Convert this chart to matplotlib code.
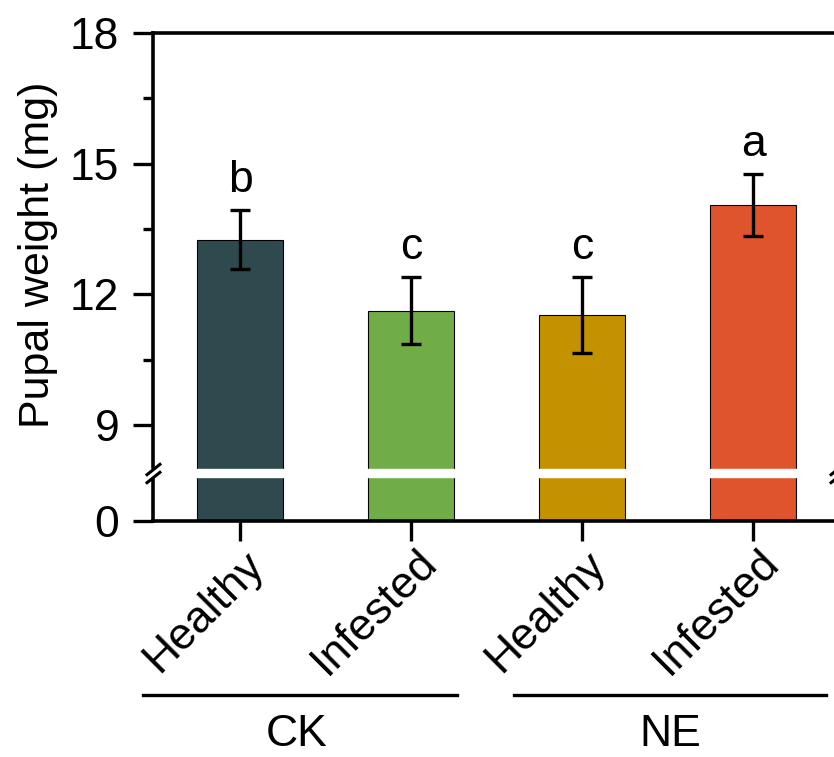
import numpy as np
import matplotlib
matplotlib.use('Agg')
import matplotlib.pyplot as plt
import matplotlib.transforms as mtransforms

plt.rcParams['font.family'] = ['Liberation Sans', 'DejaVu Sans']

# data ---------------------------------------------------------------
conditions = ['Healthy', 'Infested', 'Healthy', 'Infested']
groups = ['CK', 'NE']
weights = [13.26, 11.63, 11.53, 14.05]
errors = [0.67, 0.77, 0.87, 0.71]
letters = ['b', 'c', 'c', 'a']
colors = ['#2E4A4E', '#70AD47', '#C49100', '#DF542D']

# broken y axis: 0-1 below the break, 8-18 above it
BRK_LO, BRK_HI, GAP = 1.0, 8.0, 0.2


def forward(y):
    y = np.asarray(y, dtype=float)
    mid = BRK_LO + (y - BRK_LO) / (BRK_HI - BRK_LO) * GAP
    return np.where(y <= BRK_LO, y,
                    np.where(y >= BRK_HI, y - BRK_HI + BRK_LO + GAP, mid))


def inverse(d):
    d = np.asarray(d, dtype=float)
    top = BRK_LO + GAP
    mid = BRK_LO + (d - BRK_LO) / GAP * (BRK_HI - BRK_LO)
    return np.where(d <= BRK_LO, d,
                    np.where(d >= top, d - top + BRK_HI, mid))


fig = plt.figure(figsize=(8.34, 7.57), dpi=100)
ax = fig.add_axes([0.1835, 0.3118, 0.82, 0.6446])
ax.set_yscale('function', functions=(forward, inverse))

x = np.arange(len(weights))
ax.bar(x, weights, width=0.5, color=colors, edgecolor='black', linewidth=0.8, zorder=2)
ax.errorbar(x, weights, yerr=errors, fmt='none', ecolor='black',
            elinewidth=2.4, capsize=7.2, capthick=2.4, zorder=3)

for xi, w, e, let in zip(x, weights, errors, letters):
    ax.annotate(let, (xi, w + e), xytext=(0, 13), textcoords='offset points',
                ha='center', va='baseline', fontsize=32)

ax.set_xlim(-0.51, 3.49)
ax.set_ylim(0, 18)
ax.set_yticks([0, 9, 12, 15, 18])
ax.set_yticks([10.5, 13.5, 16.5], minor=True)
ax.set_xticks(x)
ax.set_xticklabels([])
ax.tick_params(axis='both', which='major', direction='out', length=14.4, width=2.4,
               labelsize=32, pad=10)
ax.tick_params(axis='y', which='minor', direction='out', length=7.2, width=2.4)
for sp in ax.spines.values():
    sp.set_linewidth(2.6)

# white band across the break and the // marks on the spines
ax.axhspan(BRK_LO, BRK_HI, xmin=-0.01, xmax=1.01, color='white', zorder=4, clip_on=False)
d = 0.8
ax.plot([0, 0, 1, 1], [BRK_HI, BRK_LO, BRK_HI, BRK_LO], transform=ax.get_yaxis_transform(),
        marker=[(-1, -d), (1, d)], markersize=11, linestyle='none', color='k',
        mec='k', mew=2.2, clip_on=False, zorder=5)

ax.set_ylabel('Pupal weight (mg)', fontsize=31, va='center')
ax.yaxis.set_label_coords(-0.168, 0.545)

# rotated condition labels and group brackets
blend = mtransforms.blended_transform_factory(ax.transData, ax.transAxes)
shift = mtransforms.ScaledTranslation(-0.36, 0, fig.dpi_scale_trans)
for xi, cond in zip(x, conditions):
    ax.text(xi, -0.1865, cond, transform=blend + shift, rotation=45, ha='center',
            va='center', rotation_mode='anchor', fontsize=32)

group_spans = [(-0.567, 1.269), (1.602, 3.427)]
group_centers = [0.327, 2.515]
for (x0, x1), xc, g in zip(group_spans, group_centers, groups):
    ax.plot([x0, x1], [-0.357, -0.357], transform=blend, color='black', lw=2.4,
            clip_on=False)
    ax.text(xc, -0.4385, g, transform=blend, ha='center', va='center', fontsize=32)

fig.savefig('out.png', dpi=100)
